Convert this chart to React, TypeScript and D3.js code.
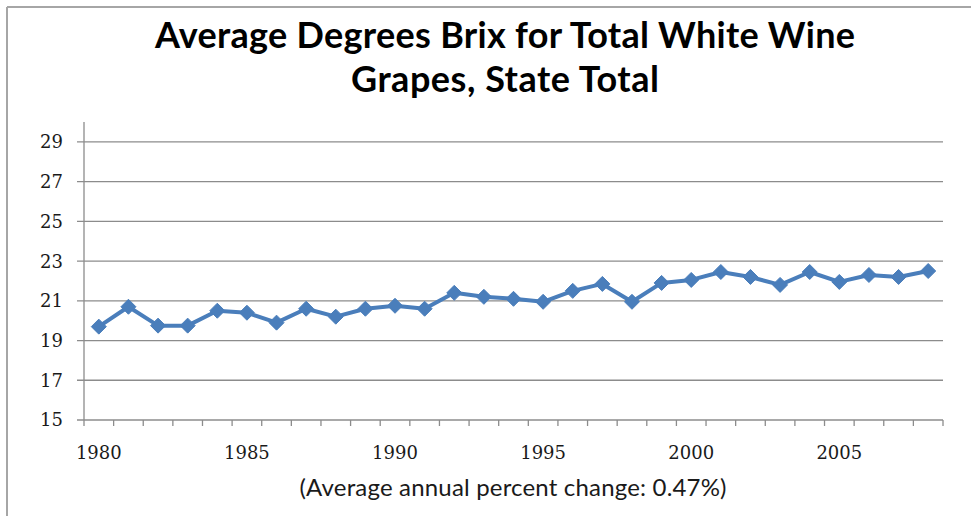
import React from "react";
import * as d3 from "d3";

const years: number[] = [1980, 1981, 1982, 1983, 1984, 1985, 1986, 1987, 1988, 1989, 1990, 1991, 1992, 1993, 1994, 1995, 1996, 1997, 1998, 1999, 2000, 2001, 2002, 2003, 2004, 2005, 2006, 2007, 2008];
const brix: number[] = [19.7, 20.7, 19.75, 19.75, 20.5, 20.4, 19.9, 20.6, 20.2, 20.6, 20.75, 20.6, 21.4, 21.2, 21.1, 20.95, 21.5, 21.85, 20.95, 21.9, 22.05, 22.45, 22.2, 21.8, 22.45, 21.95, 22.3, 22.2, 22.5];
const yTicks: number[] = [15, 17, 19, 21, 23, 25, 27, 29];
const xLabelYears: number[] = [1980, 1985, 1990, 1995, 2000, 2005];
const titleLines: string[] = ["Average Degrees Brix for Total White Wine", "Grapes, State Total"];
const footnote = "(Average annual percent change: 0.47%)";

export default function App() {
  const W = 971, H = 516;
  const left = 84, right = 943, top = 122, bottom = 420;
  const x = d3.scaleBand<number>().domain(years).range([left, right]).padding(0);
  const y = d3.scaleLinear().domain([15, 30]).range([bottom, top]);
  const cx = (yr: number) => (x(yr) as number) + x.bandwidth() / 2;
  const line = d3.line<number>().x((_, i) => cx(years[i])).y((d) => y(d));
  const boundaries = d3.range(years.length + 1).map((i) => left + i * x.bandwidth());
  const grid = "#8c8c8c";
  const blue = "#4A7EBB";
  const r = 7.5;
  const titleWidths = [700, 308];

  return (
    <svg width={W} height={H} style={{ position: "absolute", left: 0, top: 0, display: "block", background: "#fff" }}>
      {/* outer frame */}
      <line x1={7} y1={7} x2={W} y2={7} stroke="#a6a6a6" strokeWidth={2} />
      <line x1={7} y1={7} x2={7} y2={H} stroke="#a6a6a6" strokeWidth={2} />

      {/* title */}
      {titleLines.map((t, i) => (
        <text key={i} x={505} y={48 + i * 44} textAnchor="middle" fontFamily="Lato, 'Open Sans', sans-serif" fontWeight="bold" fontSize={36} fill="#000" textLength={titleWidths[i]} lengthAdjust="spacing">
          {t}
        </text>
      ))}

      {/* gridlines and y ticks */}
      {yTicks.map((t) => (
        <g key={t}>
          <line x1={left - 7} x2={right} y1={y(t)} y2={y(t)} stroke={grid} strokeWidth={1.3} />
          <text x={63} y={y(t)} dy="0.36em" textAnchor="end" fontFamily="'DejaVu Serif', serif" fontSize={18} fill="#1a1a1a">
            {t}
          </text>
        </g>
      ))}

      {/* y axis */}
      <line x1={left} x2={left} y1={top} y2={bottom} stroke={grid} strokeWidth={1.3} />

      {/* x ticks */}
      {boundaries.map((b, i) => (
        <line key={i} x1={b} x2={b} y1={bottom} y2={bottom + 6} stroke={grid} strokeWidth={1.3} />
      ))}

      {/* x labels */}
      {xLabelYears.map((yr) => (
        <text key={yr} x={cx(yr)} y={459} textAnchor="middle" fontFamily="'DejaVu Serif', serif" fontSize={18} fill="#1a1a1a">
          {yr}
        </text>
      ))}

      {/* series */}
      <path d={line(brix) || ""} fill="none" stroke={blue} strokeWidth={4} strokeLinejoin="round" />
      {brix.map((v, i) => {
        const px = cx(years[i]);
        const py = y(v);
        return (
          <path key={i} d={`M${px},${py - r}L${px + r},${py}L${px},${py + r}L${px - r},${py}Z`} fill={blue} stroke={blue} strokeWidth={1} />
        );
      })}

      {/* footnote */}
      <text x={513} y={496} textAnchor="middle" fontFamily="Lato, 'Open Sans', sans-serif" fontSize={24} fill="#1a1a1a" textLength={427} lengthAdjust="spacing">
        {footnote}
      </text>
    </svg>
  );
}
